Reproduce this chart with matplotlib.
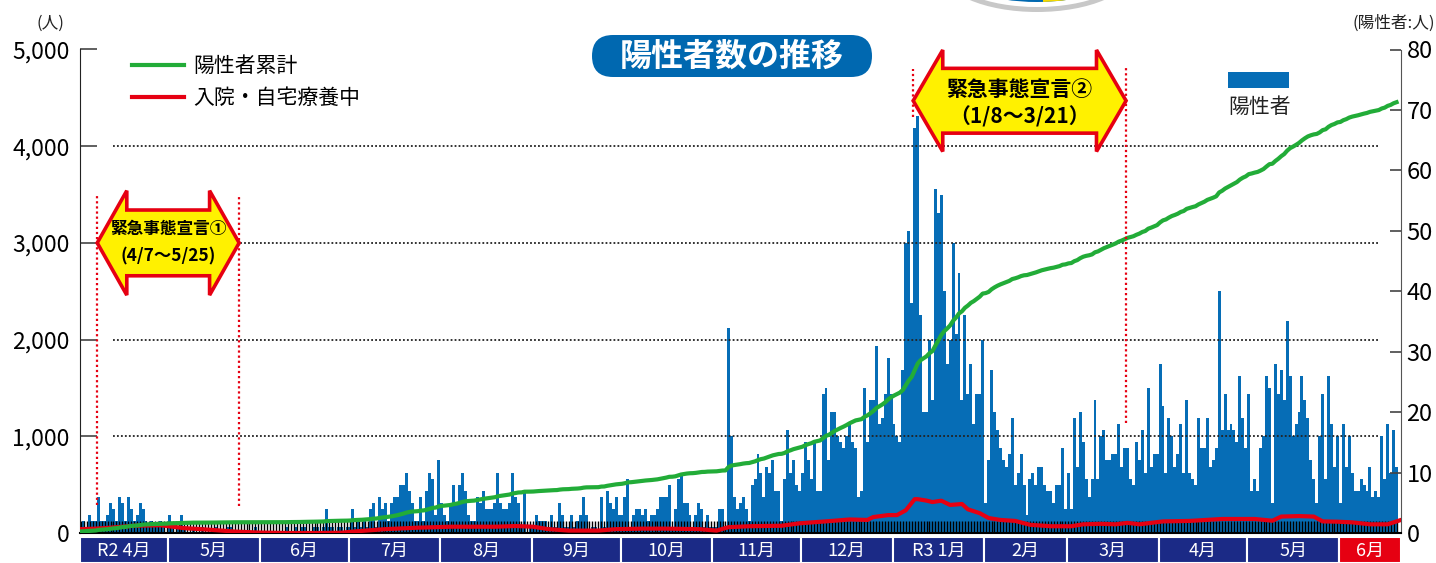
import numpy as np
import matplotlib
matplotlib.use('Agg')
import matplotlib.pyplot as plt
from matplotlib.patches import Polygon, FancyBboxPatch, Ellipse, Rectangle

plt.rcParams['font.family'] = ['Noto Sans CJK JP', 'DejaVu Sans']

# daily positives (right axis), one list per month, R2/4 .. R3/6
apr20 = [1, 2, 1, 3, 2, 2, 6, 2, 2, 3, 5, 4, 2, 6, 5, 2, 6, 4, 2, 3, 5, 4, 2, 1, 2, 1, 1, 2, 1, 0]
may20 = [3, 1, 0, 1, 3, 1, 0, 0, 1, 0, 0, 1, 0, 0, 0, 0, 1, 0, 0, 0, 1, 1, 0, 0, 0, 0, 0, 0, 0, 1, 0]
jun20 = [0, 0, 0, 0, 0, 0, 0, 0, 0, 1, 0, 0, 1, 0, 1, 1, 0, 0, 1, 1, 0, 1, 4, 1, 1, 0, 1, 1, 0, 1]
jul20 = [1, 4, 1, 2, 1, 2, 1, 4, 5, 1, 6, 4, 5, 2, 5, 6, 6, 8, 8, 10, 7, 5, 2, 2, 6, 2, 7, 10, 9, 3, 12]
aug20 = [5, 3, 2, 5, 8, 5, 8, 10, 7, 3, 2, 2, 6, 5, 7, 4, 4, 4, 5, 10, 5, 4, 4, 5, 10, 6, 5, 1, 7, 0, 1]
sep20 = [1, 3, 2, 2, 2, 1, 3, 1, 1, 5, 3, 1, 1, 3, 1, 2, 3, 6, 3, 0, 1, 1, 0, 6, 1, 7, 5, 4, 6, 3]
oct20 = [3, 6, 9, 1, 3, 4, 4, 3, 4, 2, 3, 3, 4, 6, 6, 6, 8, 1, 4, 9, 10, 5, 5, 3, 1, 3, 5, 4, 1, 3, 1]
nov20 = [1, 1, 4, 4, 1, 34, 16, 6, 4, 5, 6, 4, 2, 8, 9, 13, 10, 6, 11, 10, 12, 7, 7, 2, 9, 17, 10, 12, 8, 7]
dec20 = [10, 15, 12, 9, 15, 7, 7, 23, 24, 12, 20, 20, 16, 15, 14, 16, 18, 15, 14, 6, 7, 24, 15, 22, 22, 31,
         18, 19, 23, 29, 23]
jan21 = [18, 16, 15, 27, 48, 50, 38, 67, 69, 36, 20, 20, 32, 22, 57, 53, 56, 40, 28, 32, 48, 33, 43, 22, 36,
         23, 28, 18, 23, 23, 32]
feb21 = [5, 12, 27, 20, 17, 14, 12, 11, 13, 19, 8, 10, 13, 8, 3, 9, 10, 8, 11, 11, 8, 7, 7, 5, 8, 8, 14, 4]
mar21 = [10, 4, 19, 11, 20, 15, 9, 6, 9, 22, 9, 16, 17, 12, 12, 13, 13, 18, 11, 14, 14, 9, 8, 15, 12, 17, 10,
         24, 11, 13, 13]
apr21 = [28, 21, 10, 19, 16, 11, 13, 18, 10, 22, 10, 9, 8, 19, 14, 14, 19, 11, 12, 14, 40, 17, 23, 17, 18, 17,
         15, 26, 19, 14]
may21 = [23, 7, 9, 7, 14, 16, 26, 24, 5, 28, 23, 27, 22, 35, 26, 16, 18, 20, 26, 22, 19, 12, 9, 5, 16, 23, 9,
         26, 18, 11, 16]
jun21 = [5, 18, 11, 16, 10, 7, 7, 9, 8, 7, 11, 6, 7, 6, 16, 9, 18, 10, 17, 11]

months = [apr20, may20, jun20, jul20, aug20, sep20, oct20, nov20, dec20, jan21, feb21, mar21, apr21, may21, jun21]
month_labels = ['R2 4月', '5月', '6月', '7月', '8月', '9月', '10月', '11月', '12月',
                'R3 1月', '2月', '3月', '4月', '5月', '6月']

# positives before R2/4/1
base_total = 15

# hospitalised / home care (left axis), read at irregular days
red_days = [0, 5, 10, 18, 27, 35, 43, 52, 60, 70, 80, 88, 92, 103, 114, 125, 134, 140, 147, 153, 158, 165,
            175, 181, 190, 198, 209, 215, 219, 226, 237, 243, 254, 260, 266, 268, 273, 276, 279, 282, 283,
            286, 288, 291, 294, 298, 300, 304, 307, 311, 316, 321, 328, 335, 339, 345, 350, 354, 358, 366,
            375, 386, 397, 403, 406, 412, 417, 420, 425, 430, 436, 442, 446]
red_vals = [40, 45, 55, 75, 80, 50, 35, 15, 5, 0, 0, 3, 15, 40, 55, 65, 65, 65, 72, 65, 40, 25,
            25, 40, 45, 45, 40, 25, 60, 70, 75, 100, 125, 140, 135, 165, 185, 185, 235, 350, 350,
            335, 320, 334, 290, 300, 245, 205, 155, 135, 125, 85, 70, 70, 90, 95, 90, 105, 90, 120,
            125, 145, 145, 127, 170, 175, 170, 120, 117, 110, 90, 90, 130]

# emergency declarations: (start day, end day, label, period)
decl = [(6, 54, '緊急事態宣言①', '(4/7～5/25)'),
        (282, 354, '緊急事態宣言②', '（1/8～3/21）')]

daily = np.concatenate([np.array(m) for m in months])
days = np.arange(len(daily))
cum = base_total + np.cumsum(daily)
month_len = [len(m) for m in months]

BLUE = '#066db6'
GREEN = '#22ac38'
RED = '#e60012'
NAVY = '#1b2a86'
YELLOW = '#fff100'

W, H = 1436, 563
fig = plt.figure(figsize=(W / 100, H / 100), dpi=100)
ax = fig.add_axes([79.5 / W, 30 / H, (1401 - 79.5) / W, (533 - 49.5) / H])
ax2 = ax.twinx()
ax.set_zorder(ax2.get_zorder() + 1)
ax.patch.set_visible(False)

bars = ax2.bar(days, daily, width=1.0, color=BLUE, linewidth=0)
ax2.set_ylim(0, 80)
ax.set_ylim(0, 5000)
xlim = (-0.5, 446.5)
ax.set_xlim(*xlim)

red_line, = ax.plot(red_days, red_vals, color=RED, lw=3, zorder=4)
green_line, = ax.plot(days, cum, color=GREEN, lw=3, zorder=5)

for v in [1000, 2000, 3000, 4000]:
    ax.axhline(v, 0.025, 0.983, color='#222222', lw=1.3, ls=(0, (1, 1.2)), zorder=3)

# axes styling
for s in ['top', 'right']:
    ax.spines[s].set_visible(False)
for s in ['top', 'left', 'bottom']:
    ax2.spines[s].set_visible(False)
ax.spines['left'].set_color('#222222')
ax.spines['bottom'].set_linewidth(1.5)
ax2.spines['right'].set_color('#555555')

ax.set_yticks(range(0, 5001, 1000))
ax.set_yticklabels([f'{v:,}' for v in range(0, 5001, 1000)])
ax.tick_params(axis='y', direction='in', length=12.5, width=1.2, color='#444444',
               labelsize=16.5, pad=7)
ax2.set_yticks(range(0, 81, 10))
ax2.tick_params(axis='y', direction='in', length=8, width=1.2, color='#444444',
                labelsize=17, pad=4)
ax.set_xticks([])
ax.set_xticks(days, minor=True)
ax.tick_params(axis='x', which='minor', direction='in', length=8.6, width=1.0, color='#000000')
ax2.set_xticks([])

# emergency declaration arrows
arrow_style = [dict(yc=3000, hh=540, hb=340, head=10, fs1=12, fs2=12.5, d1=10, d2=-10, top=3510, bot=290),
               dict(yc=4470, hh=525, hb=335, head=10, fs1=15, fs2=15, d1=8, d2=-11.5, top=4800, bot=4300)]
for (d0, d1, lab, per), st in zip(decl, arrow_style):
    x0, x1 = d0 - 0.5, d1 - 0.5
    yc, hh, hb, hd = st['yc'], st['hh'], st['hb'], st['head']
    pts = [(x0, yc), (x0 + hd, yc + hh), (x0 + hd, yc + hb), (x1 - hd, yc + hb), (x1 - hd, yc + hh),
           (x1, yc), (x1 - hd, yc - hh), (x1 - hd, yc - hb), (x0 + hd, yc - hb), (x0 + hd, yc - hh)]
    ax.add_patch(Polygon(pts, closed=True, fc=YELLOW, ec=RED, lw=2.6, joinstyle='miter',
                         zorder=7, clip_on=False))
    xm = (x0 + x1) / 2
    ax.annotate(lab, (xm, yc), xytext=(0, st['d1']), textcoords='offset points', ha='center',
                va='center', fontsize=st['fs1'], fontweight='bold', zorder=8)
    ax.annotate(per, (xm, yc), xytext=(0, st['d2']), textcoords='offset points', ha='center',
                va='center', fontsize=st['fs2'], fontweight='bold', zorder=8)
    ax.vlines([x0], st['bot'], st['top'], color=RED, lw=1.6, ls=(0, (1, 1.3)), zorder=6)

ax.vlines([decl[0][1] - 0.5], 280, 3490, color=RED, lw=1.6, ls=(0, (1, 1.3)), zorder=6)
ax.vlines([decl[1][1] - 0.5], 1136, 4810, color=RED, lw=1.6, ls=(0, (1, 1.3)), zorder=6)

# month band
bx = fig.add_axes([79.5 / W, 0, (1401 - 79.5) / W, 26 / H])
starts = np.concatenate([[0], np.cumsum(month_len)[:-1]]) - 0.5
widths = list(month_len[:-1]) + [xlim[1] - starts[-1]]
colors = [NAVY] * (len(months) - 1) + [RED]
bx.bar(starts, [1] * len(starts), width=widths, align='edge', color=colors,
       edgecolor='white', linewidth=1.5)
for s, w, lab in zip(starts, widths, month_labels):
    bx.text(s + w / 2, 0.45, lab, color='white', ha='center', va='center', fontsize=13)
bx.set_xlim(*xlim)
bx.set_ylim(0, 1)
bx.axis('off')

# legends
fig.legend(handles=[green_line, red_line], labels=['陽性者累計', '入院・自宅療養中'],
           loc='upper left', bbox_to_anchor=(132 / W, 1 - 55 / H), frameon=False, fontsize=15,
           handlelength=2.5, handletextpad=0.45, labelspacing=0.5, borderpad=0, borderaxespad=0)
fig.legend(handles=[bars], labels=[''], loc='upper left', bbox_to_anchor=(1228 / W, 1 - 70 / H),
           frameon=False, fontsize=15, handlelength=2.93, handleheight=0.77, handletextpad=0,
           borderpad=0, borderaxespad=0)

# overlay in pixel coordinates for title, unit labels and the cropped logo at the top
ov = fig.add_axes([0, 0, 1, 1], zorder=10)
ov.set_xlim(0, W)
ov.set_ylim(H, 0)
ov.axis('off')
ov.add_patch(Ellipse((1037, -30), 192, 84, fc='#c8c8c8', ec='none'))
ov.add_patch(Ellipse((1037, -31), 182, 76, fc='white', ec='none'))
ov.add_patch(Ellipse((1037, -31), 172, 66, fc='#0068b0', ec='none'))
yel = Ellipse((1037, -31), 172, 66, fc='#f4d800', ec='none')
ov.add_patch(yel)
yel.set_clip_path(Rectangle((1043, -80), 120, 100, transform=ov.transData))
ov.add_patch(FancyBboxPatch((592, 35), 280, 42, boxstyle='round,pad=0,rounding_size=21',
                            fc='#0068b0', ec='none'))
ov.text(732, 57, '陽性者数の推移', color='white', fontsize=23, fontweight='bold',
        ha='center', va='center')
ov.text(1228, 107, '陽性者', fontsize=15, ha='left', va='center', color='#222222')
ov.text(50, 23, '(人)', fontsize=12, ha='center', va='center', color='#222222')
ov.text(1435, 23, '(陽性者:人)', fontsize=12, ha='right', va='center', color='#222222')

fig.savefig('out.png', dpi=100)
